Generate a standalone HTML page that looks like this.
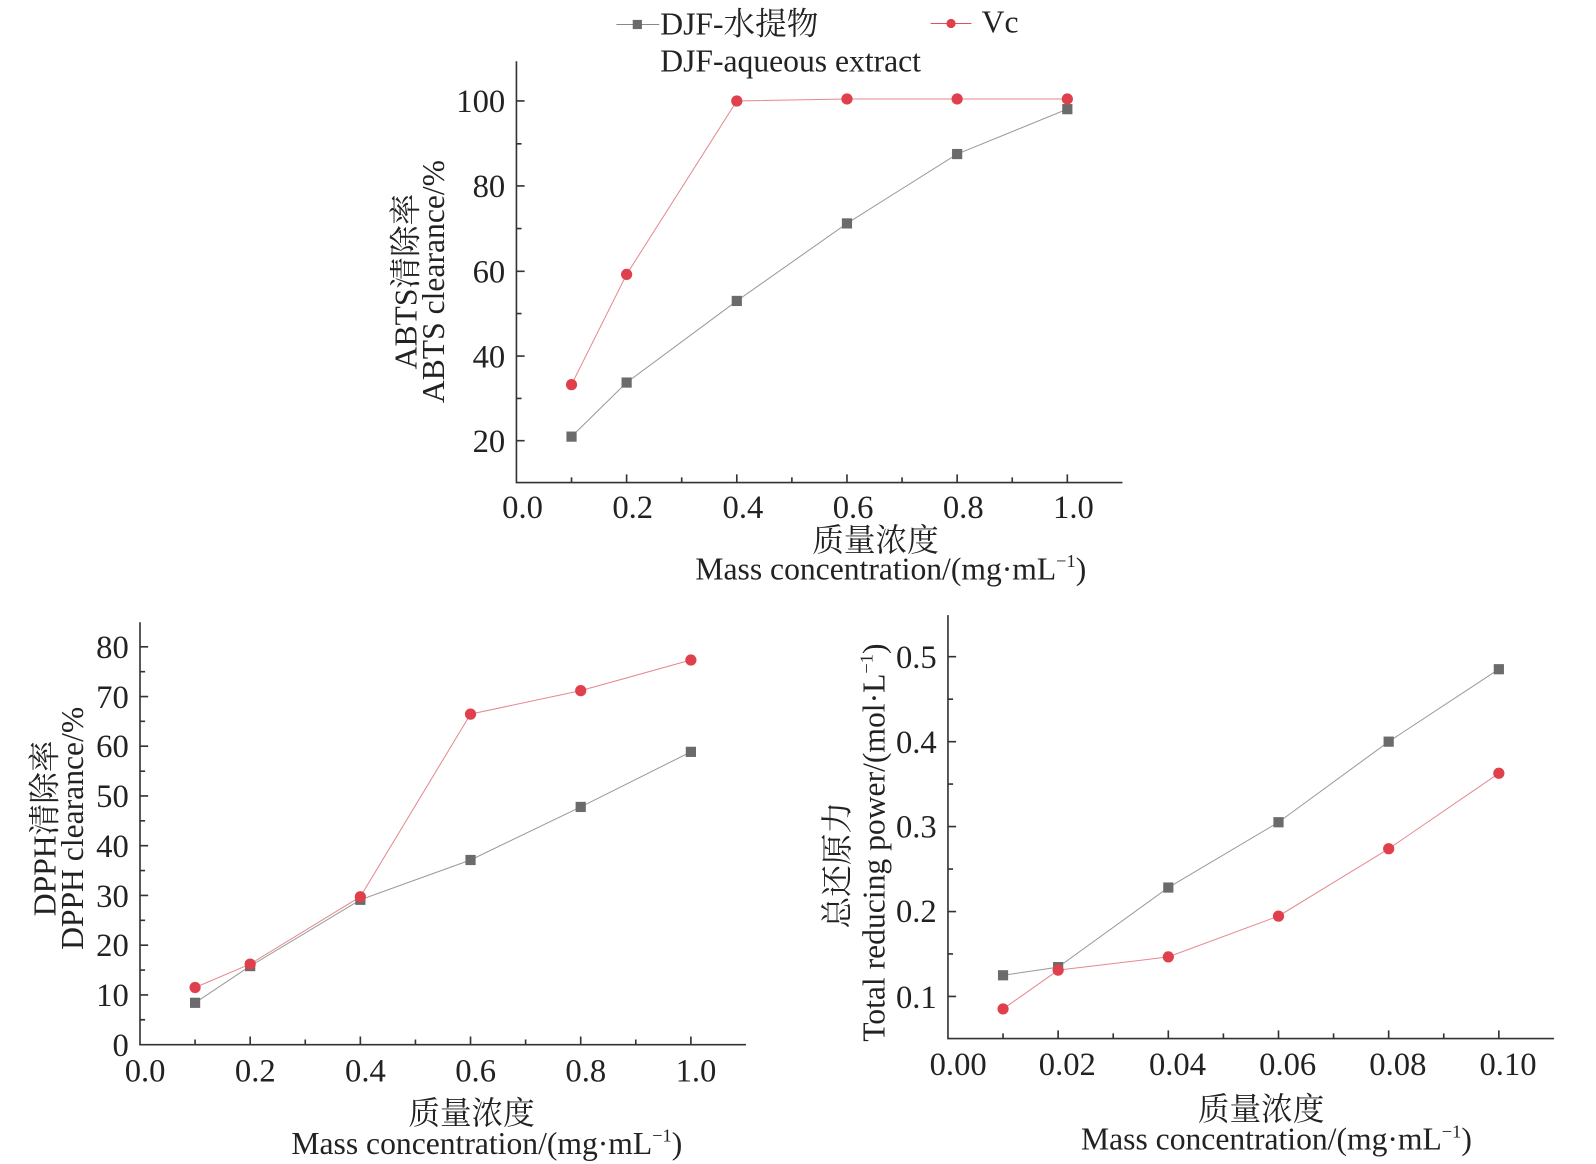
<!DOCTYPE html>
<html><head><meta charset="utf-8"><style>
html,body{margin:0;padding:0;background:#fff;}
svg{display:block;}
text{font-family:"Liberation Serif","Noto Serif CJK SC","Noto Sans CJK SC",serif;fill:#222;}
</style></head><body>
<svg width="1596" height="1164" viewBox="0 0 1564 1141" xmlns="http://www.w3.org/2000/svg">
<!-- Legend -->
<line x1="604" y1="24" x2="646" y2="24" stroke="#888" stroke-width="1"/>
<rect x="620" y="19.5" width="9" height="9" fill="#6b6b6b"/>
<text x="647" y="34" font-size="31">DJF-水提物</text>
<text x="647" y="70" font-size="31">DJF-aqueous extract</text>
<line x1="912" y1="23" x2="952" y2="23" stroke="#e0505a" stroke-width="1"/>
<circle cx="932" cy="23" r="4.5" fill="#e0404c"/>
<text x="962" y="32" font-size="31">Vc</text>

<g stroke="#333" stroke-width="1.6" fill="none">
<path d="M506 60V473H1100"/>
<path d="M506 432h8M506 349h8M506 266h8M506 182.3h8M506 99h8M506 390.6h5M506 307.4h5M506 224h5M506 141h5"/>
<path d="M614 473v-8M722 473v-8M830 473v-8M938 473v-8M1046 473v-8M560 473v-5M668 473v-5M776 473v-5M884 473v-5M992 473v-5"/>
<path d="M137 610V1024H731"/>
<path d="M137 975.25h8M137 926.5h8M137 877.75h8M137 829h8M137 780.25h8M137 731.5h8M137 682.75h8M137 634h8M137 999.6h5M137 950.9h5M137 902.1h5M137 853.4h5M137 804.6h5M137 755.9h5M137 707.1h5M137 658.4h5"/>
<path d="M245 1024v-8M353 1024v-8M461 1024v-8M569 1024v-8M677 1024v-8M191 1024v-5M299 1024v-5M407 1024v-5M515 1024v-5M623 1024v-5"/>
<path d="M929 603V1018H1523"/>
<path d="M929 976.75h8M929 893.5h8M929 810.25h8M929 727h8M929 643.75h8M929 935.1h5M929 851.9h5M929 768.6h5M929 685.4h5"/>
<path d="M1037 1018v-8M1145 1018v-8M1253 1018v-8M1361 1018v-8M1469 1018v-8M983 1018v-5M1091 1018v-5M1199 1018v-5M1307 1018v-5M1415 1018v-5"/>
</g>

<polyline points="560,428 614,375 722,295 830,219 938,151 1046,107" fill="none" stroke="#999" stroke-width="1"/>
<polyline points="560,377 614,269 722,99 830,97 938,97 1046,97" fill="none" stroke="#e58890" stroke-width="1"/>
<g fill="#6b6b6b"><rect x="555" y="423" width="10" height="10"/><rect x="609" y="370" width="10" height="10"/><rect x="717" y="290" width="10" height="10"/><rect x="825" y="214" width="10" height="10"/><rect x="933" y="146" width="10" height="10"/><rect x="1041" y="102" width="10" height="10"/></g>
<g fill="#e0404c"><circle cx="560" cy="377" r="5.5"/><circle cx="614" cy="269" r="5.5"/><circle cx="722" cy="99" r="5.5"/><circle cx="830" cy="97" r="5.5"/><circle cx="938" cy="97" r="5.5"/><circle cx="1046" cy="97" r="5.5"/></g>

<polyline points="191,983 245,947 353,882 461,843 569,791 677,737" fill="none" stroke="#999" stroke-width="1"/>
<polyline points="191,968 245,945 353,879 461,700 569,677 677,647" fill="none" stroke="#e58890" stroke-width="1"/>
<g fill="#6b6b6b"><rect x="186" y="978" width="10" height="10"/><rect x="240" y="942" width="10" height="10"/><rect x="348" y="877" width="10" height="10"/><rect x="456" y="838" width="10" height="10"/><rect x="564" y="786" width="10" height="10"/><rect x="672" y="732" width="10" height="10"/></g>
<g fill="#e0404c"><circle cx="191" cy="968" r="5.5"/><circle cx="245" cy="945" r="5.5"/><circle cx="353" cy="879" r="5.5"/><circle cx="461" cy="700" r="5.5"/><circle cx="569" cy="677" r="5.5"/><circle cx="677" cy="647" r="5.5"/></g>

<polyline points="983,956 1037,948 1145,870 1253,806 1361,727 1469,656" fill="none" stroke="#999" stroke-width="1"/>
<polyline points="983,989 1037,951 1145,938 1253,898 1361,832 1469,758" fill="none" stroke="#e58890" stroke-width="1"/>
<g fill="#6b6b6b"><rect x="978" y="951" width="10" height="10"/><rect x="1032" y="943" width="10" height="10"/><rect x="1140" y="865" width="10" height="10"/><rect x="1248" y="801" width="10" height="10"/><rect x="1356" y="722" width="10" height="10"/><rect x="1464" y="651" width="10" height="10"/></g>
<g fill="#e0404c"><circle cx="983" cy="989" r="5.5"/><circle cx="1037" cy="951" r="5.5"/><circle cx="1145" cy="938" r="5.5"/><circle cx="1253" cy="898" r="5.5"/><circle cx="1361" cy="832" r="5.5"/><circle cx="1469" cy="758" r="5.5"/></g>

<g font-size="32" text-anchor="end">
<text x="495" y="443">20</text><text x="495" y="360">40</text><text x="495" y="277">60</text><text x="495" y="193">80</text><text x="495" y="110">100</text>
</g>
<g font-size="32" text-anchor="middle">
<text x="512" y="508">0.0</text><text x="620" y="508">0.2</text><text x="728" y="508">0.4</text><text x="836" y="508">0.6</text><text x="944" y="508">0.8</text><text x="1052" y="508">1.0</text>
<text x="858" y="540" font-size="31">质量浓度</text>
<text x="873" y="568" font-size="31">Mass concentration/(mg·mL<tspan font-size="18" dy="-12">−1</tspan><tspan dy="12">)</tspan></text>
</g>
<g font-size="31" text-anchor="middle">
<text transform="translate(408,276) rotate(-90)">ABTS清除率</text>
<text transform="translate(435,276) rotate(-90)">ABTS clearance/%</text>
</g>

<g font-size="32" text-anchor="end">
<text x="126" y="1035">0</text><text x="126" y="986">10</text><text x="126" y="937">20</text><text x="126" y="889">30</text><text x="126" y="840">40</text><text x="126" y="791">50</text><text x="126" y="742">60</text><text x="126" y="694">70</text><text x="126" y="645">80</text>
</g>
<g font-size="32" text-anchor="middle">
<text x="142" y="1060">0.0</text><text x="250" y="1060">0.2</text><text x="358" y="1060">0.4</text><text x="466" y="1060">0.6</text><text x="574" y="1060">0.8</text><text x="682" y="1060">1.0</text>
<text x="462" y="1102" font-size="31">质量浓度</text>
<text x="477" y="1131" font-size="31">Mass concentration/(mg·mL<tspan font-size="18" dy="-12">−1</tspan><tspan dy="12">)</tspan></text>
</g>
<g font-size="31" text-anchor="middle">
<text transform="translate(54,812) rotate(-90)">DPPH清除率</text>
<text transform="translate(81,812) rotate(-90)">DPPH clearance/%</text>
</g>

<g font-size="32" text-anchor="end">
<text x="918" y="988">0.1</text><text x="918" y="904">0.2</text><text x="918" y="821">0.3</text><text x="918" y="738">0.4</text><text x="918" y="655">0.5</text>
</g>
<g font-size="32" text-anchor="middle">
<text x="939" y="1054">0.00</text><text x="1046" y="1054">0.02</text><text x="1154" y="1054">0.04</text><text x="1262" y="1054">0.06</text><text x="1370" y="1054">0.08</text><text x="1478" y="1054">0.10</text>
<text x="1236" y="1098" font-size="31">质量浓度</text>
<text x="1251" y="1127" font-size="31">Mass concentration/(mg·mL<tspan font-size="18" dy="-12">−1</tspan><tspan dy="12">)</tspan></text>
</g>
<g font-size="31" text-anchor="middle">
<text transform="translate(831,848) rotate(-90)">总还原力</text>
<text transform="translate(867,826) rotate(-90)">Total reducing power/(mol·L<tspan font-size="18" dy="-12">−1</tspan><tspan dy="12">)</tspan></text>
</g>
</svg>
</body></html>
